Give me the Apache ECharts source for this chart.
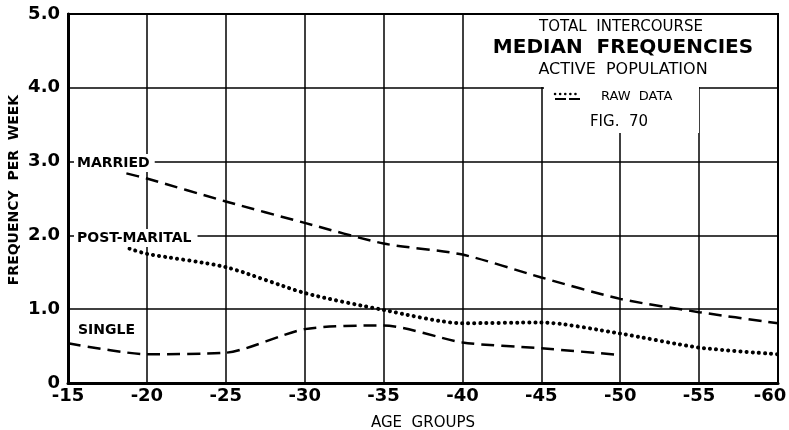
<!DOCTYPE html>
<html><head><meta charset="utf-8">
<script src="https://cdn.jsdelivr.net/npm/echarts@6/dist/echarts.min.js"></script>
<style>html,body{margin:0;padding:0;background:#fff}#c{width:789px;height:430px}</style>
</head><body><div id="c"></div>
<script>
const xTicks = [15, 20, 25, 30, 35, 40, 45, 50, 55, 60];
const yTicks = [0, 1, 2, 3, 4, 5];
const marriedAge = [18.7, 20, 25, 30, 35, 40, 45, 50, 55, 60];
const marriedVal = [2.84, 2.77, 2.46, 2.17, 1.89, 1.74, 1.43, 1.14, 0.96, 0.81];
const postAge = [18.9, 20, 25, 30, 35, 40, 45, 50, 55, 60];
const postVal = [1.82, 1.75, 1.57, 1.22, 0.99, 0.81, 0.82, 0.67, 0.48, 0.39];
const singleAge = [15, 20, 25, 30, 35, 40, 45, 50];
const singleVal = [0.54, 0.39, 0.41, 0.73, 0.78, 0.55, 0.47, 0.38];

const pair = (a, v) => a.map((x, i) => [x, v[i]]);
const FONT = '"DejaVu Sans", sans-serif';
const chart = echarts.init(document.getElementById('c'));
const dash = { color: '#000', width: 2.5, type: [13, 7] };
chart.setOption({
  animation: false,
  backgroundColor: '#fff',
  grid: { left: 68, right: 11, top: 14, bottom: 47, show: true, borderColor: '#000', borderWidth: 2,
    containLabel: false, outerBoundsMode: 'none' },
  xAxis: {
    type: 'value', min: xTicks[0], max: xTicks[xTicks.length - 1], interval: 5,
    axisLine: { lineStyle: { color: '#000', width: 3 } },
    axisTick: { show: false },
    splitLine: { lineStyle: { color: '#000', width: 1.5 } },
    axisLabel: { color: '#000', fontFamily: FONT, fontWeight: 'bold', fontSize: 18, margin: 4,
      formatter: v => v === xTicks[xTicks.length - 1] ? '{r|-' + v + '}' : '-' + v,
      rich: { r: { fontFamily: FONT, fontWeight: 'bold', fontSize: 18, color: '#000', padding: [0, 16, 0, 0] } } },
    name: 'AGE  GROUPS', nameLocation: 'middle', nameGap: 33,
    nameTextStyle: { color: '#000', fontFamily: FONT, fontSize: 15 }
  },
  yAxis: {
    type: 'value', min: yTicks[0], max: yTicks[yTicks.length - 1], interval: 1,
    axisLine: { show: true, lineStyle: { color: '#000', width: 3 } },
    axisTick: { show: false },
    splitLine: { lineStyle: { color: '#000', width: 1.5 } },
    axisLabel: { color: '#000', fontFamily: FONT, fontWeight: 'bold', fontSize: 18, margin: 8,
      formatter: v => v === 0 ? '0' : v.toFixed(1) }
  },
  series: [
    { name: 'MARRIED', type: 'line', data: pair(marriedAge, marriedVal), showSymbol: false, smooth: 0.25, lineStyle: dash, z: 5 },
    { name: 'POST-MARITAL', type: 'line', data: pair(postAge, postVal), showSymbol: false, smooth: 0.25,
      lineStyle: { color: '#000', width: 4, type: [0.1, 6], cap: 'round' }, z: 5 },
    { name: 'SINGLE', type: 'line', data: pair(singleAge, singleVal), showSymbol: false, smooth: 0.25, lineStyle: dash, z: 5 }
  ],
  graphic: [
    { type: 'rect', shape: { x: 464, y: 15, width: 312, height: 72 }, style: { fill: '#fff' }, z: 3 },
    { type: 'rect', shape: { x: 544, y: 86, width: 155, height: 47 }, style: { fill: '#fff' }, z: 3 },
    { type: 'text', x: 621, y: 27, z: 10, style: { text: 'TOTAL  INTERCOURSE', font: '15px ' + FONT, fill: '#000', align: 'center', verticalAlign: 'middle' } },
    { type: 'text', x: 623, y: 48, z: 10, style: { text: 'MEDIAN  FREQUENCIES', font: 'bold 20px ' + FONT, fill: '#000', align: 'center', verticalAlign: 'middle' } },
    { type: 'text', x: 623, y: 70, z: 10, style: { text: 'ACTIVE  POPULATION', font: '16px ' + FONT, fill: '#000', align: 'center', verticalAlign: 'middle' } },
    { type: 'line', shape: { x1: 555, y1: 94, x2: 580, y2: 94 }, z: 10, style: { stroke: '#000', lineWidth: 2.5, lineDash: [0.1, 5], lineCap: 'round' } },
    { type: 'line', shape: { x1: 555, y1: 99, x2: 580, y2: 99 }, z: 10, style: { stroke: '#000', lineWidth: 2, lineDash: [11, 3] } },
    { type: 'text', x: 601, y: 97, z: 10, style: { text: 'RAW  DATA', font: '13px ' + FONT, fill: '#000', align: 'left', verticalAlign: 'middle' } },
    { type: 'text', x: 619, y: 122, z: 10, style: { text: 'FIG.  70', font: '15px ' + FONT, fill: '#000', align: 'center', verticalAlign: 'middle' } },
    { type: 'text', x: 14, y: 190, rotation: Math.PI / 2, z: 10, style: { text: 'FREQUENCY  PER  WEEK', font: 'bold 14px ' + FONT, fill: '#000', align: 'center', verticalAlign: 'middle' } },
    { type: 'text', x: 74, y: 163, z: 10, style: { text: 'MARRIED', font: 'bold 14px ' + FONT, fill: '#000', align: 'left', verticalAlign: 'middle', backgroundColor: '#fff', padding: [2, 5, 2, 3] } },
    { type: 'text', x: 74, y: 238, z: 10, style: { text: 'POST-MARITAL', font: 'bold 14px ' + FONT, fill: '#000', align: 'left', verticalAlign: 'middle', backgroundColor: '#fff', padding: [2, 6, 2, 3] } },
    { type: 'text', x: 78, y: 330, z: 10, style: { text: 'SINGLE', font: 'bold 14px ' + FONT, fill: '#000', align: 'left', verticalAlign: 'middle' } }
  ]
});
</script></body></html>
